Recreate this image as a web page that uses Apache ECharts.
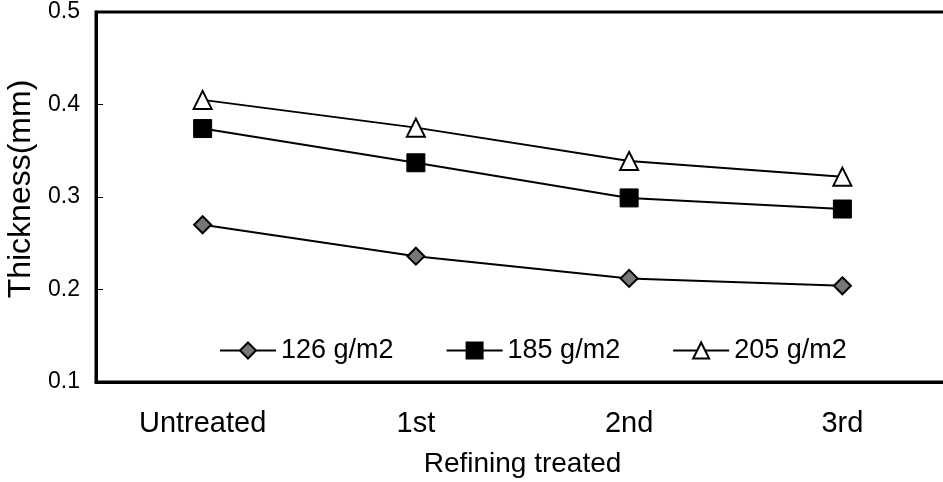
<!DOCTYPE html>
<html><head><meta charset="utf-8">
<script src="https://cdn.jsdelivr.net/npm/echarts@6/dist/echarts.min.js"></script>
<style>html,body{margin:0;padding:0;background:#fff}#c{width:943px;height:482px}</style>
</head><body><div id="c"></div>
<script>
const categories = ['Untreated', '1st', '2nd', '3rd'];
const s126 = [0.270, 0.236, 0.212, 0.204];
const s185 = [0.374, 0.337, 0.299, 0.287];
const s205 = [0.405, 0.375, 0.339, 0.322];
const seriesNames = ['126 g/m2', '185 g/m2', '205 g/m2'];
const yTicks = { min: 0.1, max: 0.5, interval: 0.1 };

const font = 'Liberation Sans, Arial, sans-serif';
const chart = echarts.init(document.getElementById('c'));
chart.setOption({
  animation: false,
  backgroundColor: '#fff',
  grid: { left: 96, right: -6, top: 12, bottom: 100, show: true, borderColor: '#000', borderWidth: 3,
          backgroundColor: 'transparent', containLabel: false, outerBoundsMode: 'none' },
  legend: {
    top: 332, left: 214, itemWidth: 56, itemHeight: 20, itemGap: 52,
    textStyle: { fontFamily: font, fontSize: 27, color: '#000' },
    data: seriesNames
  },
  xAxis: {
    type: 'category', data: categories, boundaryGap: true,
    name: 'Refining treated', nameLocation: 'middle', nameGap: 68,
    nameTextStyle: { fontFamily: font, fontSize: 28, color: '#000' },
    axisLine: { lineStyle: { color: '#000', width: 3 } },
    axisTick: { inside: true, length: 6, lineStyle: { color: '#000', width: 1 } },
    axisLabel: { fontFamily: font, fontSize: 29, color: '#000', margin: 27 }
  },
  yAxis: {
    type: 'value', min: yTicks.min, max: yTicks.max, interval: yTicks.interval,
    name: 'Thickness(mm)', nameLocation: 'middle', nameGap: 54,
    nameTextStyle: { fontFamily: font, fontSize: 32, color: '#000', padding: [0, 0, 0, 16] },
    axisLine: { show: true, lineStyle: { color: '#000', width: 3 } },
    axisTick: { show: true, inside: true, length: 7, lineStyle: { color: '#000', width: 1 } },
    splitLine: { show: false },
    axisLabel: { fontFamily: font, fontSize: 23, color: '#000', margin: 16, formatter: v => v.toFixed(1) }
  },
  series: [
    { name: seriesNames[0], type: 'line', data: s126, symbol: 'diamond', symbolSize: 17,
      itemStyle: { color: '#777', borderColor: '#000', borderWidth: 2 },
      lineStyle: { color: '#000', width: 2 } },
    { name: seriesNames[1], type: 'line', data: s185, symbol: 'rect', symbolSize: 18,
      itemStyle: { color: '#000', borderColor: '#000', borderWidth: 1 },
      lineStyle: { color: '#000', width: 2 } },
    { name: seriesNames[2], type: 'line', data: s205, symbol: 'triangle', symbolSize: 18,
      itemStyle: { color: '#fff', borderColor: '#000', borderWidth: 2 },
      lineStyle: { color: '#000', width: 2 } }
  ]
});
</script></body></html>
